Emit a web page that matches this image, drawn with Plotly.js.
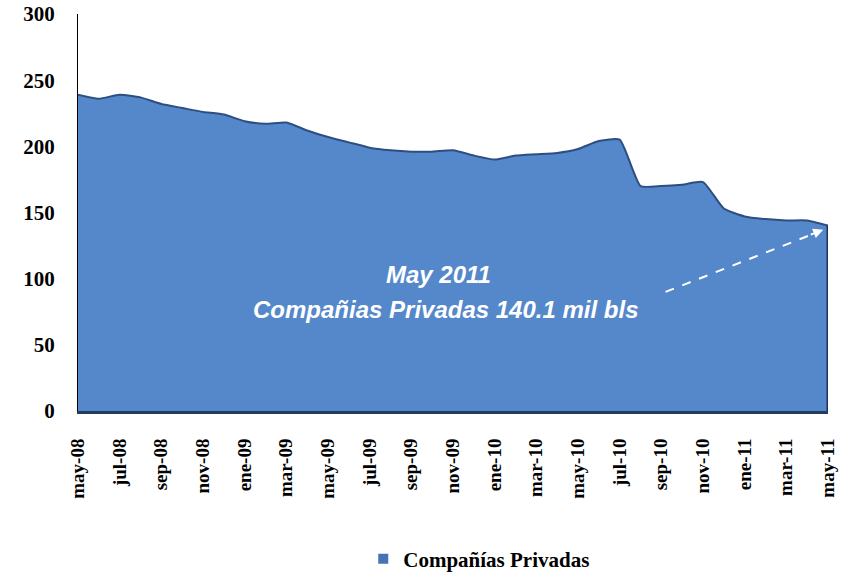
<!DOCTYPE html>
<html><head><meta charset="utf-8">
<script src="https://cdn.plot.ly/plotly-3.0.1.min.js"></script>
<style>html,body{margin:0;padding:0;background:#fff}#chart{width:847px;height:572px}</style>
</head><body><div id="chart"></div>
<script>
const months = ["may-08","jun-08","jul-08","ago-08","sep-08","oct-08","nov-08","dic-08",
  "ene-09","feb-09","mar-09","abr-09","may-09","jun-09","jul-09","ago-09","sep-09","oct-09","nov-09","dic-09",
  "ene-10","feb-10","mar-10","abr-10","may-10","jun-10","jul-10","ago-10","sep-10","oct-10","nov-10","dic-10",
  "ene-11","feb-11","mar-11","abr-11","may-11"];
const privadas = [239,236,239,237,232,229,226,224,
  219,217,218,212,207,203,199,197,196,196,197,193,
  190,193,194,195,198,204,205,170,170,171,173,153,
  147,145,144,144,140.1];
const seriesName = "Compañías Privadas";
const annLine1 = "May 2011";
const annLine2 = "Compañias Privadas 140.1 mil bls";

const idx = months.map((m,i)=>i);
const tickIdx = idx.filter(i=>i%2===0);
const tickText = tickIdx.map(i=>months[i]);
const last = idx.length-1;

const traces = [
  {x: idx, y: privadas, type:'scatter', mode:'lines', fill:'tozeroy',
   fillcolor:'rgb(85,136,202)', line:{color:'rgb(45,78,128)', width:2, shape:'spline', smoothing:0.5},
   showlegend:false, hoverinfo:'skip'},
  {x:[null], y:[null], type:'scatter', mode:'markers', name: seriesName,
   marker:{symbol:'square', size:10, color:'rgb(70,115,180)'}}
];

const annFont = {family:'Liberation Sans', size:24, weight:700, style:'italic', color:'#fff'};
const layout = {
  width:847, height:572,
  margin:{l:78, r:19, t:14, b:161, autoexpand:false},
  paper_bgcolor:'#fff', plot_bgcolor:'#fff',
  showlegend:true,
  legend:{orientation:'h', x:0.535, xanchor:'center', y:-0.373, yanchor:'middle',
    font:{family:'Liberation Serif', size:21, weight:700, color:'#000'}},
  xaxis:{range:[0,last], tickmode:'array', tickvals:tickIdx, ticktext:tickText, automargin:false,
    tickangle:-90, showgrid:false, zeroline:false, showline:true, linecolor:'rgb(35,60,100)', linewidth:3,
    ticks:'outside', ticklen:17, tickcolor:'rgba(0,0,0,0)',
    tickfont:{family:'Liberation Serif', size:19, weight:700, color:'#000'}},
  yaxis:{range:[0,300], dtick:50, showgrid:false, zeroline:false, showline:true, linecolor:'#000', linewidth:1,
    automargin:false, ticks:'outside', ticklen:18, tickcolor:'rgba(0,0,0,0)',
    tickfont:{family:'Liberation Serif', size:21, weight:700, color:'#000'}},
  shapes:[
    {type:'line', xref:'x', yref:'y', x0:last, y0:0, x1:last, y1:privadas[last],
     line:{color:'rgb(30,50,85)', width:3}},
    {type:'line', xref:'x', yref:'y', x0:28.2, y0:90, x1:35.4, y1:134.5,
     line:{color:'#fff', width:2, dash:'dash'}}
  ],
  annotations:[
    {xref:'x', yref:'y', x:17.3, y:103, text:annLine1, showarrow:false, font:annFont},
    {xref:'x', yref:'y', x:17.65, y:77, text:annLine2, showarrow:false, font:annFont},
    {xref:'x', yref:'y', x:35.77, y:137, axref:'x', ayref:'y', ax:35.1, ay:132.8, text:'',
     showarrow:true, arrowhead:2, arrowsize:1, arrowwidth:2, arrowcolor:'#fff'}
  ]
};
Plotly.newPlot('chart', traces, layout, {displayModeBar:false, staticPlot:true});
</script></body></html>
